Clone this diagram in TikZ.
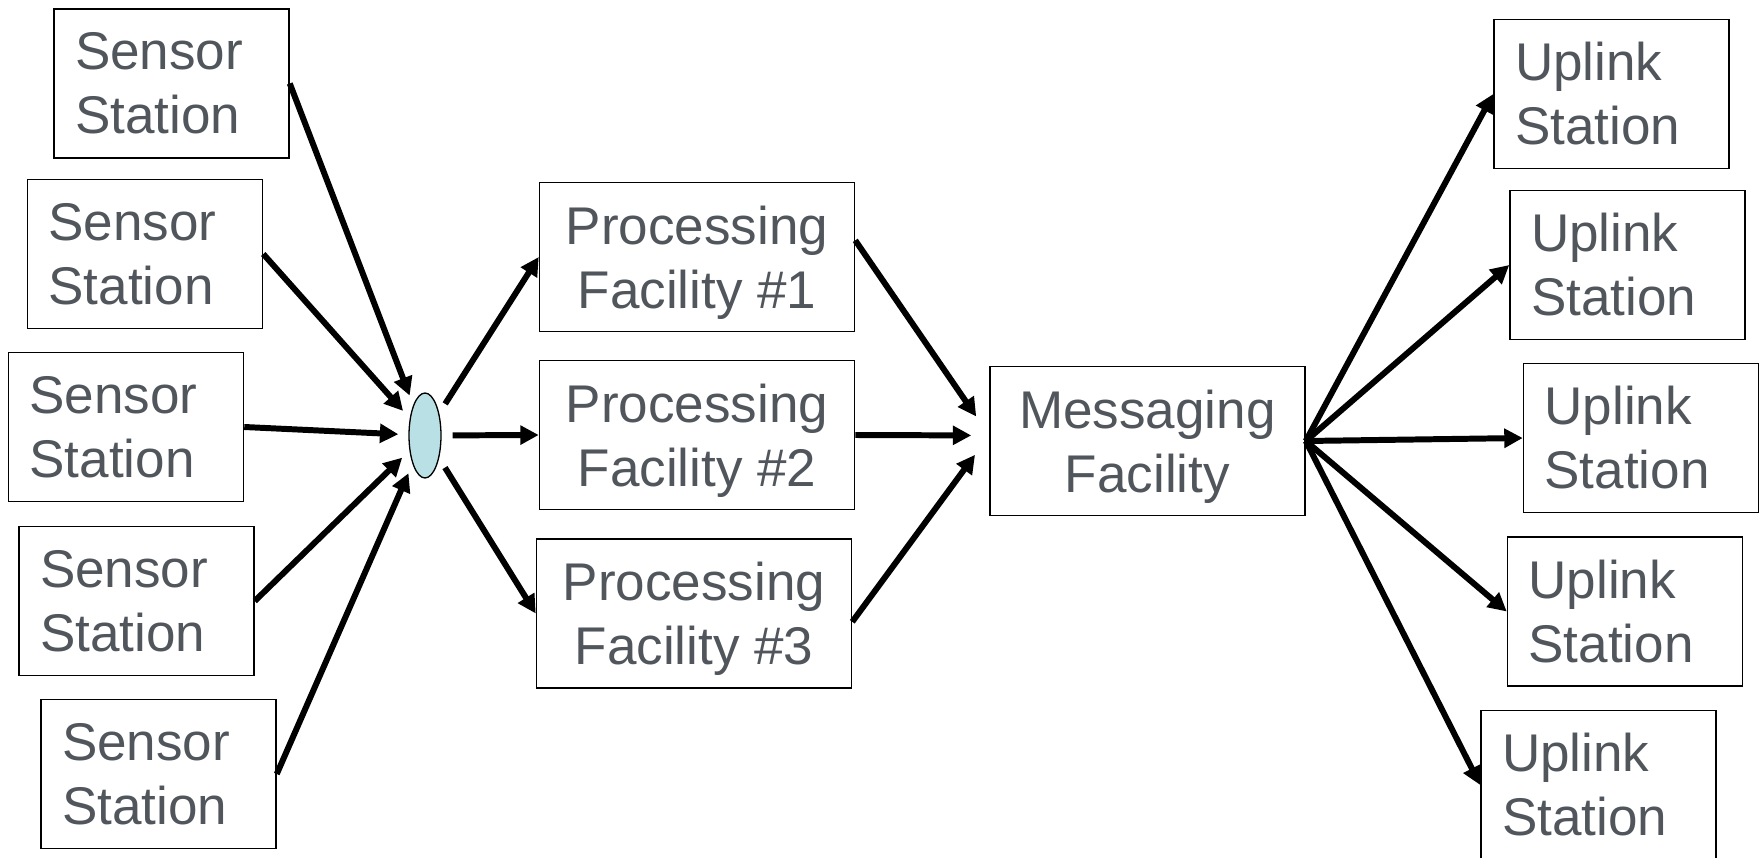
\documentclass[tikz,border=0pt]{standalone}
\usepackage{fontspec}
\setmainfont{Liberation Sans}
\usetikzlibrary{shapes.geometric,arrows.meta}

\definecolor{labelgrey}{RGB}{80,86,92}
\definecolor{hubblue}{RGB}{185,224,228}

\tikzset{
	boxtext/.style={text=labelgrey, font=\fontsize{30.2}{36.4}\selectfont},
	station/.style={boxtext, draw, line width=0.9pt, align=left, text width=3.86cm, inner xsep=0.42cm, inner ysep=0pt, minimum height=2.98cm},
	facility/.style={boxtext, draw, line width=0.9pt, align=center, text depth=0pt, inner sep=0pt, minimum width=6.3cm, minimum height=2.98cm},
	flow/.style={-{Triangle[length=10.5pt,width=10.5pt]}, line width=3.4pt},
}

\begin{document}
\begin{tikzpicture}[x=0.02cm, y=-0.02cm]
		\useasboundingbox (0,0) rectangle (1761,858);

		\node[station] (sens1) at (171.5,83.5) {Sensor\\Station};
		\node[station] (sens2) at (145,254) {Sensor\\Station};
		\node[station] (sens3) at (126,427) {Sensor\\Station};
		\node[station] (sens4) at (136.5,601) {Sensor\\Station};
		\node[station] (sens5) at (158.5,774) {Sensor\\Station};

		\node[ellipse, draw, fill=hubblue, line width=0.75pt, inner sep=0pt, minimum width=0.64cm, minimum height=1.7cm] (hub) at (425,435.5) {};

		\node[facility] (proc1) at (697,257) {Processing\\Facility \#1};
		\node[facility] (proc2) at (697,435) {Processing\\Facility \#2};
		\node[facility] (proc3) at (694,613.5) {Processing\\Facility \#3};

		\node[facility] (msg) at (1147.5,441) {Messaging\\Facility};

		\node[station] (upl1) at (1611.5,94) {Uplink\\Station};
		\node[station] (upl2) at (1627.5,265) {Uplink\\Station};
		\node[station] (upl3) at (1641,438) {Uplink\\Station};
		\node[station] (upl4) at (1625,611.5) {Uplink\\Station};
		\node[station] (upl5) at (1598.5,785) {Uplink\\Station};

		% sensors into the hub
		\draw[flow, shorten >=0.2cm] (sens1.east) -- (hub);
		\draw[flow, shorten >=0.2cm] (sens2.east) -- (hub);
		\draw[flow, shorten >=0.2cm] (sens3.east) -- (hub);
		\draw[flow, shorten >=0.2cm] (sens4.east) -- (hub);
		\draw[flow, shorten >=0.2cm] (sens5.east) -- (hub);

		% hub out to the processing facilities
		\draw[flow, shorten <=0.22cm] (hub) -- (proc1.west);
		\draw[flow, shorten <=0.22cm] (hub) -- (proc2.west);
		\draw[flow, shorten <=0.22cm] (hub) -- (proc3.west);

		\draw[flow, shorten >=0.46cm] (proc1.6) -- (msg.178);
		\draw[flow, shorten >=0.36cm] (proc2.0) -- (msg.178);
		\draw[flow, shorten >=0.48cm] (proc3.-3) -- (msg.178);

		% fan out to the uplinks
		\draw[flow] (msg.east) -- (upl1.west);
		\draw[flow] (msg.east) -- (upl2.west);
		\draw[flow] (msg.east) -- (upl3.west);
		\draw[flow] (msg.east) -- (upl4.west);
		\draw[flow] (msg.east) -- (upl5.west);
	\end{tikzpicture}
\end{document}
